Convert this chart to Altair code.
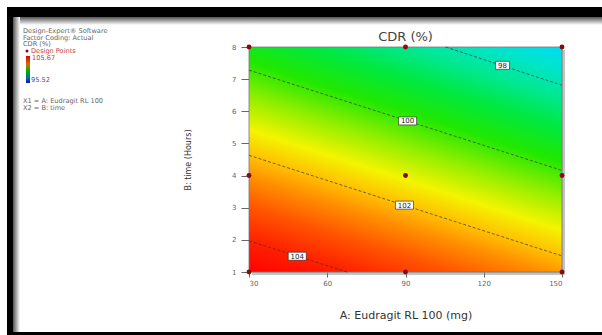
import altair as alt
import pandas as pd

# ---------------- data ----------------
a_ticks = [30, 60, 90, 120, 150]
b_ticks = [1, 2, 3, 4, 5, 6, 7, 8]

design_A = [30, 90, 150, 30, 90, 150, 30, 90, 150]
design_B = [8, 8, 8, 4, 4, 4, 1, 1, 1]

contour_level = [98, 98, 100, 100, 102, 102, 104, 104]
contour_A = [105.4, 150, 30, 150, 30, 150, 30, 67.6]
contour_B = [8.0, 6.81, 7.28, 4.16, 4.63, 1.50, 1.97, 1.0]

label_text = ["98", "100", "102", "104"]
label_A = [127.2, 90.8, 89.6, 48.5]
label_B = [7.43, 5.70, 3.08, 1.49]

# colour ramp of the response surface (CDR value -> colour)
ramp_value = [96.0, 97.0, 97.6, 98.3, 99.0, 99.8, 100.6, 101.4, 102.0, 102.5, 103.2, 104.0, 104.8, 106.0]
ramp_color = ["#00c0ff", "#00d8f8", "#00e4d0", "#00e890", "#00e840", "#20e800", "#90ee00",
              "#f4f400", "#ffc000", "#ff9000", "#ff5500", "#ff2000", "#ff0000", "#ff0000"]

legend_lines = ["Design-Expert® Software", "Factor Coding: Actual", "CDR (%)"]
legend_points = "Design Points"
legend_high = "105.67"
legend_low = "95.52"
legend_factors = ["X1 = A: Eudragit RL 100", "X2 = B: time"]

title_text = "CDR (%)"
x_title = "A: Eudragit RL 100 (mg)"
y_title = "B: time (Hours)"

# ---------------- layout ----------------
W, H = 313, 225
PL, PT = 249, 47
FONT = "DejaVu Sans"

# plane through the contours (used only to orient the colour gradient)
A_lo, A_hi = a_ticks[0], a_ticks[-1]
B_lo, B_hi = b_ticks[0], b_ticks[-1]
slope = (contour_B[3] - contour_B[2]) / (contour_A[3] - contour_A[2])
q = (102 - 100) / (contour_B[2] - contour_B[4])
p = -slope * q
g = (-(A_hi - A_lo) * p, (B_hi - B_lo) * q)
v_center = 100 - q * ((B_hi + B_lo) / 2 - contour_B[2]) - p * ((A_hi + A_lo) / 2 - contour_A[2])
gg = g[0] ** 2 + g[1] ** 2
vmin, vmax = ramp_value[0], ramp_value[-1]
a1 = (vmin - v_center) / gg
a2 = (vmax - v_center) / gg
gx1, gy1 = 0.5 + a1 * g[0], 0.5 + a1 * g[1]
gx2, gy2 = 0.5 + a2 * g[0], 0.5 + a2 * g[1]
stops = [alt.GradientStop(offset=(v - vmin) / (vmax - vmin), color=c)
         for v, c in zip(ramp_value, ramp_color)]
surface_fill = alt.Gradient(gradient="linear", stops=stops,
                            x1=gx1, y1=gy1, x2=gx2, y2=gy2)

xs = alt.Scale(domain=[A_lo, A_hi], nice=False, zero=False)
ys = alt.Scale(domain=[B_lo, B_hi], nice=False, zero=False)

x_axis = alt.Axis(values=a_ticks, tickSize=5, tickColor="#666", labelFontSize=7,
                  labelColor="#666", labelFont=FONT, labelPadding=2, domain=False,
                  grid=False, title=x_title, titleFontSize=11, titleFont=FONT,
                  titleFontWeight="normal", titleColor="#333", titleY=43,
                  titleBaseline="middle")
y_axis = alt.Axis(values=b_ticks, tickSize=8, tickColor="#666", labelFontSize=7,
                  labelColor="#666", labelFont=FONT, labelPadding=5, domain=False,
                  grid=False, title=y_title, titleFontSize=8, titleFont=FONT,
                  titleFontWeight="normal", titleColor="#333", titleAngle=270,
                  titleX=-61, titleY=H / 2, titleBaseline="middle", titleAlign="center")

X = lambda f: alt.X(f, type="quantitative", scale=xs, axis=x_axis)
Y = lambda f: alt.Y(f, type="quantitative", scale=ys, axis=y_axis)

box_df = pd.DataFrame({"A": [A_lo], "A2": [A_hi], "B": [B_hi], "B2": [B_lo]})

shadow = alt.Chart(box_df).mark_rect(
    fill="#888", opacity=0.5, xOffset=3, x2Offset=3, yOffset=3, y2Offset=3
).encode(x=X("A"), x2="A2", y=Y("B"), y2="B2")

surface = alt.Chart(box_df).mark_rect(
    fill=surface_fill, stroke="#777", strokeWidth=0.8
).encode(x=X("A"), x2="A2", y=Y("B"), y2="B2")

cont_df = pd.DataFrame({"A": contour_A, "B": contour_B, "level": contour_level})
contours = alt.Chart(cont_df).mark_line(
    color="#333", strokeWidth=0.7, strokeDash=[3, 2]
).encode(x=X("A"), y=Y("B"), detail="level:N")

lab_df = pd.DataFrame({"A": label_A, "B": label_B, "label": label_text})
boxes2 = alt.Chart(lab_df).transform_filter("length(datum.label) == 2").mark_rect(
    fill="white", stroke="#222", strokeWidth=0.6,
    xOffset=-7, x2Offset=7, yOffset=-4, y2Offset=4
).encode(x=X("A"), x2="A", y=Y("B"), y2="B")
boxes3 = alt.Chart(lab_df).transform_filter("length(datum.label) == 3").mark_rect(
    fill="white", stroke="#222", strokeWidth=0.6,
    xOffset=-9, x2Offset=9, yOffset=-4, y2Offset=4
).encode(x=X("A"), x2="A", y=Y("B"), y2="B")
labels = alt.Chart(lab_df).mark_text(
    fontSize=7, font=FONT, color="#222", baseline="middle", dy=0.5
).encode(x=X("A"), y=Y("B"), text="label:N")

pts_df = pd.DataFrame({"A": design_A, "B": design_B})
points = alt.Chart(pts_df).mark_circle(size=24, color="#8a0a0a", opacity=1).encode(
    x=X("A"), y=Y("B"))

# ---------------- decorations (page frame, title, side legend) ----------------
one = alt.Data(values=[{"k": 1}])


def frame_rect(x0, x1, y0, y1, fill):
    return alt.Chart(one).mark_rect(fill=fill).encode(
        x=alt.value(x0 - PL), x2=alt.value(x1 - PL),
        y=alt.value(y0 - PT), y2=alt.value(y1 - PT))


def txt(s, px, py, color, size=6.6, align="left"):
    return alt.Chart(alt.Data(values=[{"t": s}])).mark_text(
        align=align, baseline="middle", fontSize=size, font=FONT, color=color
    ).encode(x=alt.value(px - PL), y=alt.value(py - PT), text="t:N")


vshade = alt.Gradient(gradient="linear", x1=0, y1=0, x2=0, y2=1,
                      stops=[alt.GradientStop(offset=0, color="#555"),
                             alt.GradientStop(offset=1, color="#ffffff")])
hshade = alt.Gradient(gradient="linear", x1=0, y1=0, x2=1, y2=0,
                      stops=[alt.GradientStop(offset=0, color="#555"),
                             alt.GradientStop(offset=1, color="#ffffff")])
cbar = alt.Gradient(gradient="linear", x1=0, y1=0, x2=0, y2=1,
                    stops=[alt.GradientStop(offset=0, color="#e00000"),
                           alt.GradientStop(offset=0.3, color="#d07000"),
                           alt.GradientStop(offset=0.55, color="#00b000"),
                           alt.GradientStop(offset=0.8, color="#0070a0"),
                           alt.GradientStop(offset=1, color="#1010c0")])

frame = [
    frame_rect(13, 602, 17, 25, vshade),
    frame_rect(13, 20, 17, 332, hshade),
    frame_rect(7, 602, 7, 17, "#000"),
    frame_rect(7, 13, 7, 335, "#000"),
    frame_rect(7, 602, 332, 335, "#000"),
]

side = [
    txt(legend_lines[0], 23, 31, "#666"),
    txt(legend_lines[1], 23, 37.5, "#666"),
    txt(legend_lines[2], 23, 44, "#666"),
    alt.Chart(one).mark_circle(size=9, color="#8a0a0a", opacity=1).encode(
        x=alt.value(27 - PL), y=alt.value(51 - PT)),
    txt(legend_points, 31, 51, "#c04040"),
    frame_rect(26, 30, 56, 83, cbar),
    txt(legend_high, 32, 58, "#c04040"),
    txt(legend_low, 31, 80, "#4050c0"),
    txt(legend_factors[0], 23, 101, "#666"),
    txt(legend_factors[1], 23, 107.5, "#666"),
    txt(title_text, PL + W / 2, 37, "#444", size=13, align="center"),
]

chart = alt.layer(
    *frame, *side, shadow, surface, contours, boxes2, boxes3, labels, points
).properties(
    width=W, height=H,
    padding={"left": PL, "top": PT, "right": 602 - PL - W, "bottom": 335 - PT - H},
    autosize="none",
).configure_view(stroke=None).configure(background="white")

chart.save("out.html", embed_options={"renderer": "svg", "actions": False})
